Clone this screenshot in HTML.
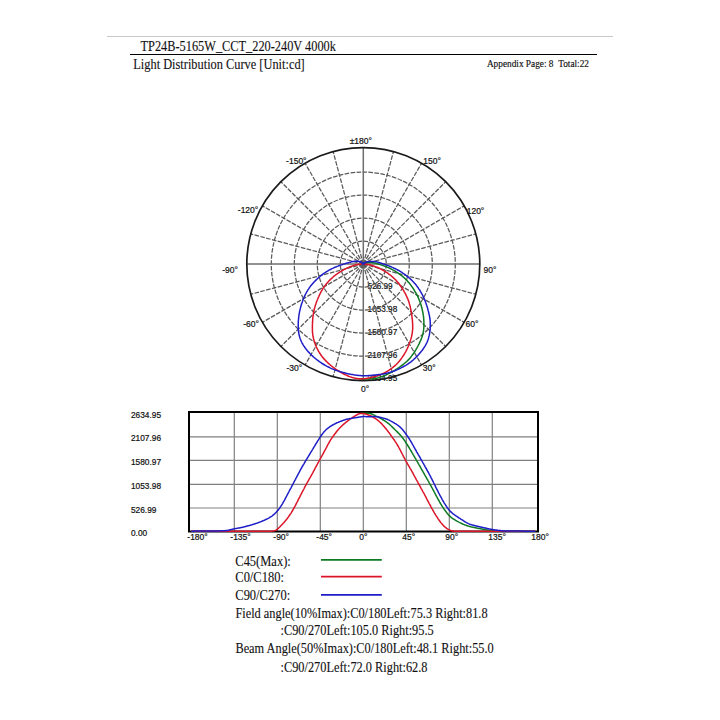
<!DOCTYPE html>
<html><head><meta charset="utf-8"><style>
html,body{margin:0;padding:0;background:#fff;width:720px;height:720px;overflow:hidden}
svg{display:block}
</style></head><body>
<svg width="720" height="720" viewBox="0 0 720 720">
<line x1="107" y1="36.5" x2="613" y2="36.5" stroke="#c8c8c8" stroke-width="1"/>
<line x1="130" y1="54.5" x2="597" y2="54.5" stroke="#000" stroke-width="1.2"/>
<text transform="translate(140.50,51.00) scale(1,1.1)" font-family='"Liberation Serif",serif' font-size="12.35" fill="#111" stroke="#111" stroke-width="0.1" text-anchor="start">TP24B-5165W_CCT_220-240V 4000k</text>
<text transform="translate(133.30,69.10) scale(1,1.1)" font-family='"Liberation Serif",serif' font-size="12.38" fill="#111" stroke="#111" stroke-width="0.1" text-anchor="start">Light Distribution Curve [Unit:cd]</text>
<text x="589.00" y="66.70" font-family='"Liberation Serif",serif' font-size="9.3" fill="#111" stroke="#111" stroke-width="0.15" text-anchor="end">Appendix Page: 8&#160;&#160;Total:22</text>
<text x="367.60" y="288.60" font-family='"Liberation Sans",sans-serif' font-size="8.2" fill="#111" stroke="#111" stroke-width="0.2" text-anchor="start">526.99</text>
<text x="367.60" y="311.60" font-family='"Liberation Sans",sans-serif' font-size="8.2" fill="#111" stroke="#111" stroke-width="0.2" text-anchor="start">1053.98</text>
<text x="367.60" y="334.60" font-family='"Liberation Sans",sans-serif' font-size="8.2" fill="#111" stroke="#111" stroke-width="0.2" text-anchor="start">1580.97</text>
<text x="367.60" y="357.60" font-family='"Liberation Sans",sans-serif' font-size="8.2" fill="#111" stroke="#111" stroke-width="0.2" text-anchor="start">2107.96</text>
<text x="367.60" y="380.60" font-family='"Liberation Sans",sans-serif' font-size="8.2" fill="#111" stroke="#111" stroke-width="0.2" text-anchor="start">2634.95</text>
<circle cx="363.3" cy="264.1" r="23.00" fill="none" stroke="#5a5a5a" stroke-width="1.25" stroke-dasharray="4.6 1.4"/>
<circle cx="363.3" cy="264.1" r="46.00" fill="none" stroke="#5a5a5a" stroke-width="1.25" stroke-dasharray="4.6 1.4"/>
<circle cx="363.3" cy="264.1" r="69.00" fill="none" stroke="#5a5a5a" stroke-width="1.25" stroke-dasharray="4.6 1.4"/>
<circle cx="363.3" cy="264.1" r="92.00" fill="none" stroke="#5a5a5a" stroke-width="1.25" stroke-dasharray="4.6 1.4"/>
<line x1="363.3" y1="264.1" x2="363.30" y2="380.60" stroke="#6e6e6e" stroke-width="1.5"/>
<line x1="363.3" y1="264.1" x2="393.45" y2="376.63" stroke="#5a5a5a" stroke-width="1.25" stroke-dasharray="4.6 1.4"/>
<line x1="363.3" y1="264.1" x2="421.55" y2="364.99" stroke="#5a5a5a" stroke-width="1.25" stroke-dasharray="4.6 1.4"/>
<line x1="363.3" y1="264.1" x2="445.68" y2="346.48" stroke="#5a5a5a" stroke-width="1.25" stroke-dasharray="4.6 1.4"/>
<line x1="363.3" y1="264.1" x2="464.19" y2="322.35" stroke="#5a5a5a" stroke-width="1.25" stroke-dasharray="4.6 1.4"/>
<line x1="363.3" y1="264.1" x2="475.83" y2="294.25" stroke="#5a5a5a" stroke-width="1.25" stroke-dasharray="4.6 1.4"/>
<line x1="363.3" y1="264.1" x2="479.80" y2="264.10" stroke="#6e6e6e" stroke-width="1.5"/>
<line x1="363.3" y1="264.1" x2="475.83" y2="233.95" stroke="#5a5a5a" stroke-width="1.25" stroke-dasharray="4.6 1.4"/>
<line x1="363.3" y1="264.1" x2="464.19" y2="205.85" stroke="#5a5a5a" stroke-width="1.25" stroke-dasharray="4.6 1.4"/>
<line x1="363.3" y1="264.1" x2="445.68" y2="181.72" stroke="#5a5a5a" stroke-width="1.25" stroke-dasharray="4.6 1.4"/>
<line x1="363.3" y1="264.1" x2="421.55" y2="163.21" stroke="#5a5a5a" stroke-width="1.25" stroke-dasharray="4.6 1.4"/>
<line x1="363.3" y1="264.1" x2="393.45" y2="151.57" stroke="#5a5a5a" stroke-width="1.25" stroke-dasharray="4.6 1.4"/>
<line x1="363.3" y1="264.1" x2="363.30" y2="147.60" stroke="#6e6e6e" stroke-width="1.5"/>
<line x1="363.3" y1="264.1" x2="333.15" y2="151.57" stroke="#5a5a5a" stroke-width="1.25" stroke-dasharray="4.6 1.4"/>
<line x1="363.3" y1="264.1" x2="305.05" y2="163.21" stroke="#5a5a5a" stroke-width="1.25" stroke-dasharray="4.6 1.4"/>
<line x1="363.3" y1="264.1" x2="280.92" y2="181.72" stroke="#5a5a5a" stroke-width="1.25" stroke-dasharray="4.6 1.4"/>
<line x1="363.3" y1="264.1" x2="262.41" y2="205.85" stroke="#5a5a5a" stroke-width="1.25" stroke-dasharray="4.6 1.4"/>
<line x1="363.3" y1="264.1" x2="250.77" y2="233.95" stroke="#5a5a5a" stroke-width="1.25" stroke-dasharray="4.6 1.4"/>
<line x1="363.3" y1="264.1" x2="246.80" y2="264.10" stroke="#6e6e6e" stroke-width="1.5"/>
<line x1="363.3" y1="264.1" x2="250.77" y2="294.25" stroke="#5a5a5a" stroke-width="1.25" stroke-dasharray="4.6 1.4"/>
<line x1="363.3" y1="264.1" x2="262.41" y2="322.35" stroke="#5a5a5a" stroke-width="1.25" stroke-dasharray="4.6 1.4"/>
<line x1="363.3" y1="264.1" x2="280.92" y2="346.48" stroke="#5a5a5a" stroke-width="1.25" stroke-dasharray="4.6 1.4"/>
<line x1="363.3" y1="264.1" x2="305.05" y2="364.99" stroke="#5a5a5a" stroke-width="1.25" stroke-dasharray="4.6 1.4"/>
<line x1="363.3" y1="264.1" x2="333.15" y2="376.63" stroke="#5a5a5a" stroke-width="1.25" stroke-dasharray="4.6 1.4"/>
<circle cx="363.3" cy="264.1" r="116.5" fill="none" stroke="#1a1a1a" stroke-width="1.7"/>
<path d="M359.3,379.0L360.3,379.1L361.3,379.1L362.3,379.1L363.3,379.1L364.3,379.1L365.3,379.1L366.3,379.1L367.3,379.0L368.3,379.0L369.3,378.9L370.3,378.9L371.3,378.8L372.3,378.7L373.3,378.7L374.3,378.6L375.3,378.4L376.3,378.2L377.3,378.0L378.3,377.7L379.2,377.4L380.2,377.1L381.2,376.8L382.1,376.5L383.1,376.1L384.0,375.8L384.9,375.4L385.9,375.0L386.8,374.5L387.7,374.1L388.6,373.7L389.5,373.2L390.4,372.8L391.3,372.3L392.2,371.8L393.0,371.3L393.9,370.8L394.7,370.3L395.6,369.7L396.4,369.2L397.3,368.7L398.1,368.1L398.9,367.6L399.7,367.0L400.5,366.4L401.3,365.8L402.1,365.2L402.9,364.6L403.7,364.0L404.4,363.4L405.2,362.8L405.9,362.1L406.7,361.5L407.4,360.8L408.1,360.1L408.8,359.4L409.4,358.7L410.1,357.9L410.7,357.2L411.3,356.4L411.9,355.6L412.5,354.8L413.1,354.0L413.7,353.1L414.2,352.3L414.8,351.5L415.3,350.6L415.8,349.8L416.3,348.9L416.8,348.1L417.3,347.2L417.7,346.4L418.2,345.5L418.6,344.6L419.1,343.8L419.5,342.9L419.9,342.0L420.3,341.2L420.7,340.3L421.1,339.4L421.4,338.5L421.8,337.6L422.1,336.7L422.4,335.8L422.6,334.8L422.9,333.9L423.1,332.9L423.3,331.9L423.5,330.9L423.6,329.9L423.7,328.9L423.8,327.9L423.9,326.8L423.9,325.8L423.9,324.7L423.9,323.7L423.9,322.6L423.9,321.6L423.8,320.6L423.8,319.5L423.7,318.5L423.6,317.4L423.5,316.4L423.3,315.4L423.2,314.4L423.0,313.3L422.8,312.3L422.6,311.3L422.4,310.3L422.2,309.3L421.9,308.3L421.6,307.3L421.4,306.3L421.1,305.3L420.8,304.3L420.4,303.4L420.1,302.4L419.8,301.5L419.4,300.5L419.1,299.6L418.7,298.7L418.3,297.8L417.9,296.9L417.5,296.0L417.0,295.1L416.6,294.2L416.1,293.4L415.6,292.5L415.1,291.7L414.6,290.8L414.1,290.0L413.6,289.2L413.1,288.4L412.6,287.6L412.0,286.8L411.5,286.1L410.9,285.3L410.4,284.6L409.8,283.8L409.2,283.1L408.6,282.4L408.0,281.7L407.4,281.0L406.8,280.4L406.1,279.7L405.5,279.0L404.8,278.4L404.1,277.7L403.4,277.1L402.7,276.5L401.9,275.9L401.2,275.3L400.4,274.7L399.7,274.2L398.9,273.6L398.1,273.1L397.4,272.6L396.6,272.1L395.8,271.6L395.1,271.1L394.3,270.7L393.5,270.2L392.7,269.8L392.0,269.4L391.2,269.0L390.5,268.6L389.7,268.3L389.0,267.9L388.3,267.6L387.5,267.3L386.8,267.0L386.2,266.7L385.5,266.4L384.8,266.2L384.2,265.9L383.5,265.7L382.9,265.5L382.3,265.3L381.7,265.1L381.1,264.9L380.5,264.7L380.0,264.5L379.5,264.4L379.0,264.2L378.5,264.1L378.0,264.0L377.6,263.9L377.2,263.7L376.8,263.6L376.4,263.5L376.1,263.4L375.7,263.3L375.4,263.3L375.1,263.2L374.8,263.1L374.5,263.0L374.2,263.0L373.9,262.9L373.6,262.8L373.3,262.8L373.0,262.7L372.8,262.7L372.5,262.6L372.3,262.6L372.0,262.6L371.8,262.5L371.5,262.5L371.3,262.5L371.1,262.4L370.8,262.4L370.6,262.4L370.4,262.4L370.2,262.4L370.0,262.4L369.8,262.4L369.6,262.4L369.4,262.4L369.2,262.4L369.0,262.4L368.8,262.4L368.6,262.4L368.5,262.4L368.3,262.4L368.1,262.4L368.0,262.4L367.9,262.4L367.7,262.4L367.6,262.4L367.5,262.4L367.3,262.4L367.2,262.4L367.1,262.4L367.0,262.4L366.9,262.5L366.8,262.5L366.7,262.5L366.6,262.5L366.5,262.5L366.4,262.5L366.3,262.5L366.2,262.6L366.1,262.6L366.0,262.6L365.9,262.6L365.8,262.6L365.7,262.7L365.6,262.7L365.5,262.7L365.5,262.8L365.4,262.8L365.3,262.8L365.2,262.9L365.1,262.9L365.0,262.9L364.9,263.0L364.8,263.0L364.8,263.0L364.7,263.1L364.6,263.1L364.5,263.2L364.4,263.2L364.4,263.2L364.3,263.3L364.2,263.3L364.2,263.4L364.1,263.4L364.0,263.5L363.9,263.5L363.9,263.6L363.8,263.6L363.8,263.7L363.7,263.7L363.7,263.7L363.6,263.8L363.6,263.8L363.6,263.8L363.5,263.9L363.5,263.9L363.5,263.9L363.5,263.9L363.5,263.9L363.5,263.9L363.5,263.9L363.4,263.9L363.4,263.9L363.4,263.9L363.4,263.9L363.4,263.9L363.4,263.9L363.4,263.9L363.4,263.9L363.4,263.9L363.4,263.9L363.4,263.9L363.4,263.9L363.4,263.9L363.4,263.9L363.4,263.9L363.4,263.9L363.4,263.9L363.4,264.0L363.4,264.0L363.4,264.0L363.4,264.0L363.4,264.0L363.4,264.0L363.4,264.0L363.4,264.0L363.4,264.0L363.4,264.0L363.4,264.0L363.4,264.0L363.4,264.0L363.4,264.0L363.4,264.0L363.4,264.0L363.4,264.0L363.4,264.0L363.4,264.0L363.3,264.0L363.3,264.0L363.3,264.0L363.3,264.0L363.3,264.0L363.3,264.0L363.3,264.0L363.3,264.0L363.3,264.0L363.3,264.0L363.3,264.0L363.3,264.0L363.3,264.0L363.3,264.0L363.3,264.0L363.3,264.0L363.3,264.0L363.3,264.0L363.3,264.0L363.3,264.0L363.3,264.0L363.3,264.0L363.3,264.0L363.3,264.0L363.3,264.0L363.3,264.0L363.3,264.0L363.3,264.0L363.3,264.0L363.3,264.0L363.3,264.1L363.3,264.1L363.3,264.1L363.3,264.1L363.3,264.1L363.3,264.1L363.3,264.1L363.3,264.1L363.3,264.1L363.3,264.1L363.3,264.1L363.3,264.1L363.3,264.1L363.3,264.1L363.3,264.1L363.3,264.1" fill="none" stroke="#0c7a22" stroke-width="1.5"/>
<path d="M363.3,264.1L363.3,264.1L363.3,264.1L363.3,264.1L363.3,264.1L363.3,264.1L363.3,264.1L363.3,264.1L363.3,264.1L363.3,264.1L363.3,264.1L363.3,264.1L363.3,264.1L363.3,264.1L363.3,264.1L363.3,264.1L363.3,264.1L363.3,264.1L363.3,264.1L363.3,264.1L363.3,264.1L363.3,264.1L363.3,264.1L363.3,264.1L363.3,264.1L363.3,264.1L363.3,264.1L363.3,264.1L363.3,264.1L363.3,264.1L363.3,264.1L363.3,264.1L363.3,264.1L363.3,264.1L363.3,264.1L363.3,264.1L363.3,264.1L363.3,264.1L363.3,264.1L363.3,264.1L363.3,264.1L363.3,264.1L363.3,264.1L363.3,264.1L363.3,264.1L363.3,264.1L363.3,264.1L363.3,264.1L363.3,264.1L363.3,264.1L363.3,264.1L363.3,264.1L363.3,264.1L363.3,264.1L363.3,264.1L363.3,264.1L363.3,264.1L363.3,264.1L363.3,264.1L363.3,264.1L363.3,264.1L363.3,264.1L363.3,264.1L363.3,264.1L363.3,264.1L363.3,264.1L363.3,264.1L363.3,264.1L363.3,264.1L363.3,264.1L363.3,264.1L363.3,264.1L363.3,264.1L363.3,264.1L363.3,264.1L363.3,264.1L363.3,264.1L363.3,264.1L363.3,264.1L363.3,264.1L363.3,264.1L363.3,264.1L363.3,264.1L363.3,264.1L363.3,264.1L363.3,264.1L363.3,264.1L363.3,264.1L363.3,264.1L363.3,264.1L363.3,264.1L363.3,264.1L363.3,264.1L363.3,264.1L363.3,264.1L363.3,264.1L363.3,264.1L363.3,264.1L363.3,264.1L363.3,264.1L363.3,264.1L363.3,264.1L363.3,264.1L363.3,264.1L363.3,264.1L363.3,264.1L363.3,264.1L363.3,264.1L363.3,264.1L363.3,264.1L363.3,264.1L363.3,264.1L363.3,264.1L363.3,264.1L363.3,264.1L363.3,264.1L363.3,264.1L363.3,264.1L363.3,264.1L363.3,264.1L363.3,264.1L363.3,264.1L363.3,264.1L363.3,264.1L363.3,264.1L363.3,264.1L363.3,264.1L363.3,264.1L363.3,264.1L363.3,264.1L363.3,264.1L363.3,264.1L363.3,264.1L363.3,264.1L363.3,264.1L363.3,264.1L363.3,264.1L363.3,264.1L363.3,264.1L363.3,264.1L363.3,264.1L363.3,264.1L363.3,264.1L363.3,264.1L363.3,264.1L363.3,264.1L363.3,264.1L363.3,264.1L363.3,264.1L363.3,264.1L363.3,264.1L363.3,264.1L363.3,264.1L363.3,264.1L363.3,264.1L363.3,264.1L363.3,264.1L363.3,264.1L363.3,264.1L363.3,264.1L363.3,264.1L363.3,264.1L363.3,264.1L363.3,264.1L363.3,264.1L363.3,264.1L363.3,264.1L363.3,264.1L363.3,264.1L363.2,264.1L363.2,264.1L363.1,264.1L363.1,264.1L363.0,264.1L362.8,264.1L362.7,264.1L362.5,264.1L362.2,264.1L361.9,264.1L361.6,264.1L361.3,264.1L360.9,264.1L360.5,264.1L360.1,264.2L359.6,264.2L359.2,264.3L358.7,264.3L358.2,264.4L357.8,264.5L357.3,264.6L356.8,264.7L356.3,264.8L355.8,264.9L355.3,265.0L354.8,265.1L354.3,265.3L353.8,265.4L353.2,265.6L352.7,265.8L352.1,266.0L351.6,266.2L351.0,266.4L350.4,266.6L349.8,266.8L349.2,267.1L348.6,267.4L347.9,267.7L347.3,267.9L346.6,268.3L345.9,268.6L345.3,268.9L344.6,269.3L343.9,269.7L343.1,270.1L342.4,270.5L341.7,270.9L340.9,271.4L340.2,271.8L339.4,272.3L338.6,272.8L337.8,273.4L337.1,273.9L336.3,274.5L335.5,275.0L334.8,275.6L334.0,276.2L333.3,276.8L332.6,277.5L331.9,278.1L331.2,278.7L330.5,279.4L329.8,280.1L329.1,280.8L328.5,281.5L327.8,282.2L327.2,282.9L326.6,283.6L325.9,284.4L325.3,285.1L324.8,285.9L324.2,286.7L323.7,287.5L323.1,288.2L322.6,289.0L322.2,289.8L321.7,290.6L321.2,291.4L320.8,292.2L320.4,293.1L320.0,293.9L319.6,294.7L319.2,295.6L318.8,296.5L318.4,297.3L318.0,298.2L317.6,299.2L317.2,300.1L316.9,301.0L316.5,302.0L316.1,303.0L315.8,304.0L315.5,304.9L315.2,305.9L314.9,306.9L314.6,308.0L314.3,309.0L314.1,310.0L313.9,311.0L313.7,312.0L313.5,313.1L313.3,314.1L313.2,315.1L313.1,316.1L312.9,317.2L312.8,318.2L312.7,319.3L312.7,320.3L312.6,321.4L312.5,322.5L312.5,323.6L312.4,324.7L312.4,325.9L312.4,327.0L312.4,328.1L312.4,329.3L312.4,330.4L312.5,331.6L312.5,332.7L312.7,333.8L312.8,334.9L313.0,336.0L313.2,337.0L313.4,338.1L313.7,339.1L313.9,340.1L314.2,341.1L314.5,342.1L314.9,343.1L315.2,344.1L315.6,345.1L316.0,346.0L316.4,347.0L316.8,347.9L317.3,348.8L317.8,349.8L318.2,350.7L318.7,351.5L319.3,352.4L319.8,353.3L320.4,354.1L320.9,355.0L321.5,355.8L322.1,356.6L322.7,357.4L323.4,358.1L324.0,358.9L324.7,359.6L325.4,360.4L326.1,361.1L326.8,361.8L327.5,362.5L328.2,363.2L329.0,363.8L329.7,364.5L330.5,365.1L331.2,365.8L332.0,366.4L332.8,367.0L333.6,367.6L334.4,368.2L335.2,368.8L336.1,369.4L336.9,369.9L337.8,370.5L338.6,371.0L339.5,371.5L340.4,372.0L341.2,372.6L342.1,373.1L343.0,373.5L343.9,374.0L344.8,374.5L345.7,374.9L346.7,375.3L347.6,375.8L348.5,376.2L349.5,376.5L350.4,376.9L351.4,377.2L352.4,377.6L353.3,377.8L354.3,378.1L355.3,378.3L356.3,378.5L357.3,378.6L358.3,378.8L359.3,378.8L360.3,378.9L361.3,378.9L362.3,378.8L363.3,378.8L364.3,378.7L365.3,378.6L366.3,378.4L367.3,378.3L368.3,378.1L369.3,377.9L370.3,377.7L371.2,377.5L372.2,377.3L373.2,377.1L374.2,376.8L375.1,376.5L376.1,376.2L377.0,375.9L378.0,375.6L378.9,375.2L379.9,374.9L380.8,374.5L381.7,374.1L382.6,373.7L383.5,373.3L384.4,372.8L385.3,372.3L386.2,371.8L387.1,371.3L387.9,370.8L388.8,370.3L389.6,369.7L390.5,369.2L391.3,368.6L392.1,368.0L392.9,367.4L393.7,366.7L394.5,366.1L395.2,365.4L396.0,364.7L396.7,364.0L397.4,363.2L398.1,362.5L398.8,361.7L399.5,360.9L400.2,360.1L400.8,359.3L401.4,358.4L402.0,357.6L402.6,356.7L403.2,355.9L403.8,355.0L404.3,354.1L404.8,353.2L405.4,352.3L405.9,351.4L406.4,350.4L406.8,349.5L407.3,348.6L407.7,347.6L408.1,346.7L408.5,345.7L408.9,344.7L409.3,343.8L409.7,342.8L410.0,341.8L410.3,340.8L410.6,339.9L410.9,338.9L411.2,337.9L411.5,336.9L411.7,335.9L411.9,334.9L412.1,333.8L412.3,332.8L412.4,331.7L412.5,330.6L412.6,329.5L412.7,328.4L412.7,327.3L412.7,326.2L412.7,325.1L412.6,323.9L412.6,322.8L412.5,321.7L412.4,320.6L412.3,319.4L412.1,318.3L412.0,317.3L411.9,316.2L411.7,315.1L411.6,314.1L411.4,313.1L411.3,312.1L411.1,311.1L410.9,310.1L410.7,309.1L410.5,308.1L410.3,307.2L410.1,306.2L409.9,305.3L409.6,304.4L409.3,303.4L409.1,302.5L408.7,301.6L408.4,300.6L408.1,299.7L407.7,298.8L407.3,297.9L406.9,297.0L406.5,296.1L406.1,295.2L405.7,294.3L405.2,293.5L404.8,292.6L404.3,291.8L403.8,290.9L403.4,290.1L402.9,289.3L402.4,288.5L401.9,287.7L401.3,287.0L400.8,286.2L400.3,285.5L399.7,284.7L399.2,284.0L398.6,283.3L398.0,282.6L397.4,281.9L396.8,281.2L396.2,280.5L395.5,279.8L394.9,279.2L394.2,278.5L393.5,277.9L392.8,277.2L392.1,276.6L391.4,276.0L390.7,275.4L390.0,274.9L389.2,274.3L388.5,273.8L387.8,273.2L387.0,272.7L386.3,272.2L385.5,271.8L384.8,271.3L384.0,270.8L383.3,270.4L382.6,270.0L381.8,269.6L381.1,269.2L380.4,268.8L379.7,268.5L379.0,268.1L378.3,267.8L377.6,267.5L376.9,267.2L376.2,267.0L375.5,266.7L374.9,266.5L374.3,266.2L373.6,266.0L373.0,265.8L372.4,265.6L371.9,265.5L371.3,265.3L370.7,265.1L370.2,265.0L369.7,264.9L369.2,264.8L368.7,264.7L368.3,264.6L367.8,264.5L367.4,264.4L367.0,264.4L366.6,264.3L366.3,264.3L366.0,264.2L365.6,264.2L365.3,264.2L365.1,264.1L364.8,264.1L364.6,264.1L364.4,264.1L364.2,264.1L364.0,264.1L363.9,264.1L363.7,264.1L363.6,264.1L363.5,264.1L363.5,264.1L363.4,264.1L363.4,264.1L363.4,264.1L363.3,264.1L363.3,264.1L363.3,264.1L363.3,264.1L363.3,264.1L363.3,264.1L363.3,264.1L363.3,264.1L363.3,264.1L363.3,264.1L363.3,264.1L363.3,264.1L363.3,264.1L363.3,264.1L363.3,264.1L363.3,264.1L363.3,264.1L363.3,264.1L363.3,264.1L363.3,264.1L363.3,264.1L363.3,264.1L363.3,264.1L363.3,264.1L363.3,264.1L363.3,264.1L363.3,264.1L363.3,264.1L363.3,264.1L363.3,264.1L363.3,264.1L363.3,264.1L363.3,264.1L363.3,264.1L363.3,264.1L363.3,264.1L363.3,264.1L363.3,264.1L363.3,264.1L363.3,264.1L363.3,264.1L363.3,264.1L363.3,264.1L363.3,264.1L363.3,264.1L363.3,264.1L363.3,264.1L363.3,264.1L363.3,264.1L363.3,264.1L363.3,264.1L363.3,264.1L363.3,264.1L363.3,264.1L363.3,264.1L363.3,264.1L363.3,264.1L363.3,264.1L363.3,264.1L363.3,264.1L363.3,264.1L363.3,264.1L363.3,264.1L363.3,264.1L363.3,264.1L363.3,264.1L363.3,264.1L363.3,264.1L363.3,264.1L363.3,264.1L363.3,264.1L363.3,264.1L363.3,264.1L363.3,264.1L363.3,264.1L363.3,264.1L363.3,264.1L363.3,264.1L363.3,264.1L363.3,264.1L363.3,264.1L363.3,264.1L363.3,264.1L363.3,264.1L363.3,264.1L363.3,264.1L363.3,264.1L363.3,264.1L363.3,264.1L363.3,264.1L363.3,264.1L363.3,264.1L363.3,264.1L363.3,264.1L363.3,264.1L363.3,264.1L363.3,264.1L363.3,264.1L363.3,264.1L363.3,264.1L363.3,264.1L363.3,264.1L363.3,264.1L363.3,264.1L363.3,264.1L363.3,264.1L363.3,264.1L363.3,264.1L363.3,264.1L363.3,264.1L363.3,264.1L363.3,264.1L363.3,264.1L363.3,264.1L363.3,264.1L363.3,264.1L363.3,264.1L363.3,264.1L363.3,264.1L363.3,264.1L363.3,264.1L363.3,264.1L363.3,264.1L363.3,264.1L363.3,264.1L363.3,264.1L363.3,264.1L363.3,264.1L363.3,264.1L363.3,264.1L363.3,264.1L363.3,264.1L363.3,264.1L363.3,264.1L363.3,264.1L363.3,264.1L363.3,264.1L363.3,264.1L363.3,264.1L363.3,264.1L363.3,264.1L363.3,264.1L363.3,264.1L363.3,264.1L363.3,264.1L363.3,264.1L363.3,264.1L363.3,264.1L363.3,264.1L363.3,264.1L363.3,264.1L363.3,264.1L363.3,264.1L363.3,264.1L363.3,264.1L363.3,264.1L363.3,264.1L363.3,264.1L363.3,264.1L363.3,264.1L363.3,264.1L363.3,264.1L363.3,264.1L363.3,264.1L363.3,264.1L363.3,264.1L363.3,264.1L363.3,264.1L363.3,264.1" fill="none" stroke="#dc1428" stroke-width="1.5"/>
<path d="M363.3,264.1L363.3,264.0L363.3,264.0L363.3,264.0L363.3,264.0L363.3,264.0L363.3,264.0L363.3,264.0L363.3,264.0L363.3,264.0L363.3,264.0L363.3,264.0L363.3,264.0L363.3,263.9L363.3,263.9L363.3,263.9L363.3,263.9L363.3,263.9L363.3,263.9L363.3,263.9L363.3,263.9L363.3,263.9L363.3,263.9L363.3,263.9L363.3,263.9L363.2,263.9L363.2,263.9L363.2,263.9L363.2,263.9L363.2,263.9L363.2,263.9L363.2,263.8L363.2,263.8L363.2,263.8L363.2,263.8L363.2,263.8L363.2,263.8L363.2,263.8L363.2,263.8L363.2,263.8L363.2,263.8L363.2,263.8L363.2,263.8L363.2,263.8L363.2,263.8L363.2,263.8L363.2,263.8L363.2,263.8L363.2,263.8L363.2,263.8L363.2,263.8L363.1,263.8L363.1,263.8L363.1,263.8L363.1,263.8L363.1,263.8L363.1,263.8L363.1,263.8L363.1,263.8L363.1,263.8L363.1,263.8L363.1,263.8L363.1,263.8L363.1,263.7L363.1,263.7L363.1,263.7L363.1,263.7L363.0,263.7L363.0,263.7L363.0,263.7L363.0,263.7L363.0,263.6L362.9,263.6L362.9,263.6L362.9,263.5L362.8,263.5L362.8,263.4L362.7,263.3L362.6,263.3L362.6,263.2L362.5,263.1L362.4,263.0L362.3,263.0L362.2,262.9L362.1,262.8L362.0,262.7L362.0,262.7L361.9,262.6L361.8,262.5L361.7,262.5L361.6,262.4L361.5,262.4L361.4,262.3L361.4,262.3L361.3,262.2L361.2,262.2L361.1,262.2L361.1,262.1L361.0,262.1L360.9,262.1L360.8,262.0L360.8,262.0L360.7,262.0L360.6,261.9L360.5,261.9L360.4,261.9L360.3,261.8L360.2,261.8L360.1,261.8L360.0,261.7L359.9,261.7L359.7,261.7L359.6,261.6L359.5,261.6L359.4,261.6L359.3,261.5L359.1,261.5L359.0,261.5L358.9,261.4L358.7,261.4L358.6,261.4L358.5,261.4L358.3,261.3L358.2,261.3L358.1,261.3L357.9,261.3L357.8,261.3L357.6,261.3L357.5,261.3L357.3,261.2L357.2,261.2L357.0,261.2L356.8,261.2L356.7,261.2L356.5,261.2L356.3,261.2L356.2,261.2L356.0,261.2L355.8,261.2L355.6,261.2L355.5,261.2L355.3,261.3L355.1,261.3L354.9,261.3L354.7,261.3L354.5,261.3L354.3,261.3L354.1,261.4L353.9,261.4L353.7,261.4L353.4,261.5L353.2,261.5L353.0,261.5L352.8,261.6L352.6,261.6L352.3,261.7L352.1,261.7L351.9,261.8L351.6,261.8L351.4,261.9L351.1,262.0L350.9,262.0L350.6,262.1L350.4,262.2L350.1,262.2L349.8,262.3L349.5,262.4L349.2,262.5L348.8,262.6L348.5,262.7L348.1,262.8L347.7,262.9L347.3,263.0L346.9,263.1L346.5,263.2L346.0,263.3L345.6,263.5L345.1,263.6L344.6,263.8L344.1,263.9L343.6,264.1L343.0,264.3L342.5,264.5L341.9,264.7L341.3,264.9L340.7,265.1L340.0,265.3L339.4,265.6L338.7,265.8L338.0,266.1L337.2,266.4L336.5,266.7L335.7,267.0L334.9,267.3L334.1,267.7L333.3,268.1L332.4,268.4L331.6,268.8L330.8,269.3L329.9,269.7L329.1,270.1L328.3,270.6L327.5,271.1L326.7,271.5L325.9,272.0L325.1,272.6L324.3,273.1L323.6,273.6L322.8,274.2L322.0,274.8L321.3,275.4L320.5,276.0L319.8,276.6L319.0,277.2L318.3,277.9L317.6,278.5L316.9,279.2L316.2,279.9L315.5,280.6L314.8,281.3L314.1,282.0L313.4,282.8L312.8,283.5L312.1,284.3L311.5,285.0L310.8,285.8L310.2,286.6L309.6,287.4L309.0,288.3L308.5,289.1L307.9,289.9L307.4,290.8L306.9,291.6L306.4,292.5L306.0,293.3L305.5,294.2L305.1,295.0L304.7,295.9L304.3,296.8L303.9,297.7L303.5,298.6L303.2,299.5L302.8,300.4L302.5,301.4L302.2,302.3L301.8,303.3L301.5,304.2L301.2,305.2L300.9,306.2L300.7,307.1L300.4,308.1L300.2,309.1L299.9,310.1L299.7,311.1L299.5,312.2L299.3,313.2L299.1,314.2L299.0,315.3L298.8,316.3L298.7,317.4L298.6,318.4L298.5,319.5L298.4,320.5L298.3,321.6L298.3,322.7L298.2,323.7L298.2,324.8L298.2,325.9L298.2,326.9L298.3,328.0L298.3,329.1L298.4,330.1L298.5,331.2L298.6,332.2L298.8,333.3L299.0,334.3L299.2,335.3L299.5,336.3L299.7,337.2L300.0,338.2L300.4,339.1L300.7,340.0L301.1,340.9L301.5,341.8L301.9,342.6L302.4,343.5L302.9,344.3L303.3,345.1L303.8,345.9L304.4,346.7L304.9,347.5L305.5,348.3L306.0,349.0L306.6,349.7L307.2,350.5L307.8,351.2L308.4,351.9L309.1,352.6L309.7,353.3L310.4,354.0L311.0,354.6L311.7,355.3L312.4,355.9L313.1,356.6L313.8,357.2L314.5,357.8L315.2,358.4L316.0,359.0L316.7,359.6L317.5,360.2L318.2,360.7L319.0,361.3L319.8,361.9L320.6,362.4L321.3,362.9L322.1,363.5L323.0,364.0L323.8,364.5L324.6,365.0L325.4,365.4L326.2,365.9L327.1,366.4L327.9,366.8L328.8,367.2L329.7,367.7L330.5,368.1L331.4,368.5L332.3,368.9L333.2,369.2L334.0,369.6L334.9,369.9L335.8,370.3L336.7,370.6L337.7,370.9L338.6,371.2L339.5,371.5L340.4,371.8L341.3,372.0L342.3,372.3L343.2,372.6L344.1,372.8L345.1,373.0L346.0,373.3L347.0,373.5L347.9,373.7L348.8,373.9L349.8,374.1L350.7,374.3L351.7,374.4L352.7,374.6L353.6,374.8L354.6,374.9L355.5,375.1L356.5,375.2L357.5,375.3L358.4,375.5L359.4,375.6L360.4,375.6L361.4,375.7L362.3,375.8L363.3,375.8L364.3,375.8L365.2,375.8L366.2,375.7L367.2,375.7L368.2,375.6L369.1,375.6L370.1,375.5L371.1,375.4L372.1,375.3L373.0,375.2L374.0,375.1L375.0,375.0L375.9,374.9L376.9,374.8L377.9,374.7L378.8,374.6L379.8,374.5L380.8,374.4L381.7,374.2L382.7,374.1L383.7,373.9L384.6,373.7L385.6,373.5L386.5,373.3L387.5,373.1L388.4,372.8L389.3,372.6L390.3,372.3L391.2,372.0L392.1,371.7L393.1,371.4L394.0,371.0L394.9,370.7L395.8,370.3L396.7,369.9L397.6,369.6L398.4,369.1L399.3,368.7L400.2,368.3L401.1,367.9L401.9,367.4L402.8,367.0L403.6,366.5L404.5,366.0L405.3,365.6L406.2,365.1L407.0,364.6L407.8,364.0L408.6,363.5L409.4,363.0L410.2,362.4L411.0,361.8L411.7,361.2L412.5,360.6L413.2,360.0L413.9,359.3L414.6,358.6L415.3,358.0L416.0,357.3L416.7,356.6L417.4,355.9L418.0,355.2L418.7,354.5L419.3,353.7L419.9,353.0L420.6,352.3L421.2,351.5L421.8,350.8L422.4,350.0L422.9,349.3L423.5,348.5L424.0,347.7L424.5,346.9L425.1,346.1L425.5,345.2L426.0,344.4L426.4,343.5L426.9,342.6L427.3,341.7L427.6,340.8L428.0,339.8L428.3,338.9L428.6,337.9L428.8,336.9L429.1,335.9L429.3,334.9L429.5,333.9L429.7,332.8L429.8,331.8L430.0,330.8L430.1,329.7L430.2,328.7L430.2,327.6L430.3,326.6L430.3,325.5L430.3,324.4L430.3,323.4L430.2,322.3L430.2,321.2L430.1,320.1L429.9,319.0L429.8,317.9L429.6,316.8L429.4,315.7L429.2,314.7L428.9,313.6L428.7,312.5L428.4,311.4L428.1,310.4L427.9,309.3L427.6,308.3L427.3,307.2L427.0,306.2L426.6,305.2L426.3,304.2L426.0,303.3L425.6,302.3L425.3,301.3L424.9,300.4L424.5,299.4L424.1,298.5L423.7,297.6L423.3,296.7L422.9,295.8L422.4,294.9L421.9,294.0L421.4,293.1L420.9,292.2L420.4,291.4L419.9,290.5L419.4,289.7L418.8,288.8L418.3,288.0L417.7,287.2L417.1,286.4L416.5,285.6L415.9,284.8L415.3,284.0L414.6,283.3L413.9,282.5L413.2,281.8L412.5,281.1L411.8,280.3L411.1,279.6L410.3,278.9L409.6,278.3L408.8,277.6L408.0,276.9L407.2,276.3L406.4,275.7L405.6,275.0L404.8,274.4L404.0,273.9L403.1,273.3L402.3,272.7L401.5,272.2L400.6,271.7L399.8,271.2L399.0,270.7L398.2,270.2L397.3,269.8L396.5,269.4L395.7,268.9L394.9,268.5L394.1,268.2L393.4,267.8L392.6,267.4L391.8,267.1L391.1,266.8L390.3,266.5L389.6,266.2L388.9,265.9L388.2,265.6L387.5,265.4L386.8,265.1L386.2,264.9L385.6,264.7L385.0,264.5L384.4,264.3L383.8,264.1L383.3,263.9L382.8,263.8L382.4,263.6L381.9,263.5L381.5,263.3L381.1,263.2L380.7,263.0L380.3,262.9L379.9,262.8L379.6,262.7L379.2,262.6L378.8,262.5L378.5,262.4L378.2,262.3L377.8,262.2L377.5,262.1L377.2,262.0L376.9,262.0L376.5,261.9L376.2,261.8L375.9,261.8L375.6,261.7L375.3,261.7L375.0,261.6L374.7,261.6L374.4,261.5L374.0,261.5L373.7,261.5L373.4,261.5L373.1,261.5L372.8,261.5L372.5,261.5L372.1,261.5L371.8,261.5L371.5,261.5L371.3,261.5L371.0,261.5L370.7,261.5L370.5,261.6L370.2,261.6L370.0,261.6L369.8,261.6L369.6,261.6L369.5,261.6L369.3,261.6L369.2,261.6L369.0,261.6L368.9,261.6L368.7,261.6L368.6,261.6L368.5,261.6L368.4,261.6L368.2,261.6L368.1,261.6L368.0,261.7L367.9,261.7L367.8,261.7L367.6,261.7L367.5,261.7L367.4,261.7L367.3,261.7L367.2,261.8L367.1,261.8L367.0,261.8L366.8,261.8L366.7,261.9L366.6,261.9L366.5,261.9L366.4,262.0L366.3,262.0L366.2,262.0L366.1,262.1L366.0,262.1L365.9,262.1L365.8,262.2L365.7,262.2L365.6,262.3L365.5,262.3L365.4,262.4L365.3,262.4L365.2,262.5L365.1,262.5L365.0,262.6L365.0,262.6L364.9,262.7L364.8,262.7L364.7,262.8L364.6,262.8L364.6,262.9L364.5,262.9L364.4,263.0L364.4,263.0L364.3,263.0L364.2,263.1L364.2,263.1L364.1,263.2L364.1,263.2L364.0,263.2L364.0,263.3L364.0,263.3L363.9,263.4L363.9,263.4L363.8,263.4L363.8,263.5L363.7,263.5L363.7,263.6L363.7,263.6L363.6,263.6L363.6,263.7L363.6,263.7L363.5,263.7L363.5,263.8L363.5,263.8L363.5,263.8L363.5,263.8L363.5,263.9L363.4,263.9L363.4,263.9L363.4,263.9L363.4,263.9L363.4,263.9L363.4,263.9L363.4,263.9L363.4,263.9L363.4,263.9L363.4,263.9L363.4,263.9L363.4,263.9L363.4,263.9L363.4,263.9L363.4,263.9L363.4,263.9L363.4,263.9L363.4,263.9L363.4,263.9L363.4,263.9L363.4,264.0L363.4,264.0L363.4,264.0L363.4,264.0L363.3,264.0L363.3,264.0L363.3,264.0L363.3,264.0L363.3,264.0L363.3,264.0L363.3,264.0L363.3,264.0L363.3,264.0L363.3,264.0L363.3,264.0L363.3,264.0L363.3,264.0L363.3,264.0L363.3,264.0L363.3,264.0L363.3,264.0L363.3,264.0L363.3,264.0L363.3,264.0L363.3,264.0L363.3,264.0L363.3,264.0L363.3,264.0L363.3,264.0L363.3,264.0L363.3,264.0L363.3,264.0L363.3,264.0L363.3,264.1L363.3,264.1L363.3,264.1L363.3,264.1L363.3,264.1L363.3,264.1L363.3,264.1L363.3,264.1L363.3,264.1L363.3,264.1L363.3,264.1" fill="none" stroke="#1e1ec8" stroke-width="1.5"/>
<text x="349.70" y="143.50" font-family='"Liberation Sans",sans-serif' font-size="8.5" fill="#111" stroke="#111" stroke-width="0.2" text-anchor="start">&#177;180&#176;</text>
<text x="286.10" y="163.60" font-family='"Liberation Sans",sans-serif' font-size="8.5" fill="#111" stroke="#111" stroke-width="0.2" text-anchor="start">-150&#176;</text>
<text x="423.30" y="163.90" font-family='"Liberation Sans",sans-serif' font-size="8.5" fill="#111" stroke="#111" stroke-width="0.2" text-anchor="start">150&#176;</text>
<text x="237.80" y="213.00" font-family='"Liberation Sans",sans-serif' font-size="8.5" fill="#111" stroke="#111" stroke-width="0.2" text-anchor="start">-120&#176;</text>
<text x="466.70" y="213.60" font-family='"Liberation Sans",sans-serif' font-size="8.5" fill="#111" stroke="#111" stroke-width="0.2" text-anchor="start">120&#176;</text>
<text x="222.20" y="272.80" font-family='"Liberation Sans",sans-serif' font-size="8.5" fill="#111" stroke="#111" stroke-width="0.2" text-anchor="start">-90&#176;</text>
<text x="483.50" y="272.80" font-family='"Liberation Sans",sans-serif' font-size="8.5" fill="#111" stroke="#111" stroke-width="0.2" text-anchor="start">90&#176;</text>
<text x="243.20" y="326.90" font-family='"Liberation Sans",sans-serif' font-size="8.5" fill="#111" stroke="#111" stroke-width="0.2" text-anchor="start">-60&#176;</text>
<text x="465.60" y="326.90" font-family='"Liberation Sans",sans-serif' font-size="8.5" fill="#111" stroke="#111" stroke-width="0.2" text-anchor="start">60&#176;</text>
<text x="286.50" y="370.80" font-family='"Liberation Sans",sans-serif' font-size="8.5" fill="#111" stroke="#111" stroke-width="0.2" text-anchor="start">-30&#176;</text>
<text x="422.80" y="370.80" font-family='"Liberation Sans",sans-serif' font-size="8.5" fill="#111" stroke="#111" stroke-width="0.2" text-anchor="start">30&#176;</text>
<text x="361.00" y="391.70" font-family='"Liberation Sans",sans-serif' font-size="8.5" fill="#111" stroke="#111" stroke-width="0.2" text-anchor="start">0&#176;</text>
<line x1="189" y1="436.80" x2="538" y2="436.80" stroke="#808080" stroke-width="1.2"/>
<line x1="189" y1="460.30" x2="538" y2="460.30" stroke="#808080" stroke-width="1.2"/>
<line x1="189" y1="484.30" x2="538" y2="484.30" stroke="#808080" stroke-width="1.2"/>
<line x1="189" y1="508.00" x2="538" y2="508.00" stroke="#808080" stroke-width="1.2"/>
<line x1="234.30" y1="412" x2="234.30" y2="531.5" stroke="#808080" stroke-width="1.2"/>
<line x1="277.30" y1="412" x2="277.30" y2="531.5" stroke="#808080" stroke-width="1.2"/>
<line x1="320.30" y1="412" x2="320.30" y2="531.5" stroke="#808080" stroke-width="1.2"/>
<line x1="363.30" y1="412" x2="363.30" y2="531.5" stroke="#808080" stroke-width="1.2"/>
<line x1="406.30" y1="412" x2="406.30" y2="531.5" stroke="#808080" stroke-width="1.2"/>
<line x1="449.30" y1="412" x2="449.30" y2="531.5" stroke="#808080" stroke-width="1.2"/>
<line x1="492.30" y1="412" x2="492.30" y2="531.5" stroke="#808080" stroke-width="1.2"/>
<rect x="189" y="412" width="349" height="119.5" fill="none" stroke="#000" stroke-width="2"/>
<path d="M361.4,413.2L361.9,413.2L362.3,413.2L362.8,413.2L363.3,413.2L363.8,413.2L364.3,413.2L364.7,413.2L365.2,413.2L365.7,413.2L366.2,413.2L366.6,413.2L367.1,413.2L367.6,413.2L368.1,413.2L368.6,413.2L369.0,413.3L369.5,413.4L370.0,413.5L370.5,413.6L370.9,413.8L371.4,413.9L371.9,414.1L372.4,414.3L372.9,414.5L373.3,414.7L373.8,414.9L374.3,415.1L374.8,415.3L375.2,415.6L375.7,415.8L376.2,416.1L376.7,416.3L377.2,416.6L377.6,416.8L378.1,417.1L378.6,417.3L379.1,417.6L379.5,417.9L380.0,418.1L380.5,418.4L381.0,418.7L381.5,418.9L381.9,419.2L382.4,419.5L382.9,419.8L383.4,420.0L383.8,420.3L384.3,420.6L384.8,420.9L385.3,421.2L385.8,421.5L386.2,421.8L386.7,422.2L387.2,422.5L387.7,422.9L388.1,423.3L388.6,423.6L389.1,424.0L389.6,424.5L390.1,424.9L390.5,425.3L391.0,425.8L391.5,426.2L392.0,426.7L392.4,427.2L392.9,427.6L393.4,428.1L393.9,428.6L394.4,429.0L394.8,429.5L395.3,430.0L395.8,430.5L396.3,430.9L396.7,431.4L397.2,431.9L397.7,432.4L398.2,432.9L398.7,433.3L399.1,433.8L399.6,434.3L400.1,434.9L400.6,435.4L401.0,435.9L401.5,436.5L402.0,437.1L402.5,437.7L403.0,438.3L403.4,438.9L403.9,439.6L404.4,440.3L404.9,441.0L405.3,441.7L405.8,442.5L406.3,443.2L406.8,444.0L407.3,444.7L407.7,445.5L408.2,446.3L408.7,447.0L409.2,447.8L409.6,448.6L410.1,449.4L410.6,450.2L411.1,451.0L411.6,451.8L412.0,452.6L412.5,453.4L413.0,454.3L413.5,455.1L413.9,455.9L414.4,456.7L414.9,457.6L415.4,458.4L415.9,459.2L416.3,460.1L416.8,460.9L417.3,461.7L417.8,462.6L418.2,463.4L418.7,464.2L419.2,465.1L419.7,465.9L420.2,466.7L420.6,467.6L421.1,468.4L421.6,469.3L422.1,470.1L422.5,471.0L423.0,471.8L423.5,472.7L424.0,473.5L424.5,474.4L424.9,475.2L425.4,476.1L425.9,476.9L426.4,477.7L426.8,478.6L427.3,479.4L427.8,480.2L428.3,481.1L428.8,481.9L429.2,482.8L429.7,483.6L430.2,484.5L430.7,485.3L431.1,486.2L431.6,487.1L432.1,488.0L432.6,488.9L433.1,489.8L433.5,490.7L434.0,491.6L434.5,492.5L435.0,493.4L435.4,494.3L435.9,495.2L436.4,496.1L436.9,497.0L437.4,497.9L437.8,498.7L438.3,499.6L438.8,500.5L439.3,501.3L439.7,502.1L440.2,503.0L440.7,503.8L441.2,504.6L441.7,505.4L442.1,506.1L442.6,506.9L443.1,507.6L443.6,508.3L444.0,509.1L444.5,509.7L445.0,510.4L445.5,511.1L446.0,511.7L446.4,512.3L446.9,513.0L447.4,513.5L447.9,514.1L448.3,514.7L448.8,515.2L449.3,515.7L449.8,516.1L450.3,516.6L450.7,517.0L451.2,517.4L451.7,517.8L452.2,518.1L452.6,518.5L453.1,518.8L453.6,519.1L454.1,519.4L454.6,519.7L455.0,520.0L455.5,520.3L456.0,520.6L456.5,520.9L456.9,521.2L457.4,521.4L457.9,521.7L458.4,521.9L458.9,522.2L459.3,522.4L459.8,522.6L460.3,522.9L460.8,523.1L461.2,523.3L461.7,523.5L462.2,523.7L462.7,524.0L463.2,524.2L463.6,524.4L464.1,524.6L464.6,524.8L465.1,525.0L465.5,525.1L466.0,525.3L466.5,525.5L467.0,525.7L467.5,525.8L467.9,526.0L468.4,526.1L468.9,526.3L469.4,526.4L469.8,526.5L470.3,526.6L470.8,526.8L471.3,526.9L471.8,527.0L472.2,527.1L472.7,527.2L473.2,527.3L473.7,527.4L474.1,527.5L474.6,527.6L475.1,527.7L475.6,527.8L476.1,527.9L476.5,528.0L477.0,528.1L477.5,528.2L478.0,528.3L478.4,528.4L478.9,528.4L479.4,528.5L479.9,528.6L480.4,528.7L480.8,528.8L481.3,528.9L481.8,529.0L482.3,529.1L482.7,529.2L483.2,529.3L483.7,529.4L484.2,529.5L484.7,529.6L485.1,529.7L485.6,529.8L486.1,529.8L486.6,529.9L487.0,530.0L487.5,530.1L488.0,530.2L488.5,530.3L489.0,530.4L489.4,530.4L489.9,530.5L490.4,530.6L490.9,530.7L491.3,530.7L491.8,530.8L492.3,530.8L492.8,530.9L493.3,530.9L493.7,530.9L494.2,531.0L494.7,531.0L495.2,531.0L495.6,531.0L496.1,531.0L496.6,531.0L497.1,531.0L497.6,531.0L498.0,531.0L498.5,531.0L499.0,531.0L499.5,531.0L499.9,531.0L500.4,531.0L500.9,531.0L501.4,531.1L501.9,531.1L502.3,531.1L502.8,531.1L503.3,531.1L503.8,531.1L504.2,531.1L504.7,531.1L505.2,531.1L505.7,531.1L506.2,531.1L506.6,531.1L507.1,531.1L507.6,531.1L508.1,531.1L508.5,531.1L509.0,531.1L509.5,531.1L510.0,531.1L510.5,531.1L510.9,531.1L511.4,531.1L511.9,531.1L512.4,531.1L512.8,531.1L513.3,531.1L513.8,531.1L514.3,531.1L514.8,531.1L515.2,531.1L515.7,531.1L516.2,531.1L516.7,531.1L517.1,531.1L517.6,531.1L518.1,531.1L518.6,531.1L519.1,531.1L519.5,531.2L520.0,531.2L520.5,531.2L521.0,531.2L521.4,531.2L521.9,531.2L522.4,531.2L522.9,531.2L523.4,531.2L523.8,531.2L524.3,531.2L524.8,531.2L525.3,531.2L525.7,531.2L526.2,531.2L526.7,531.2L527.2,531.2L527.7,531.2L528.1,531.2L528.6,531.2L529.1,531.2L529.6,531.2L530.0,531.2L530.5,531.2L531.0,531.2L531.5,531.2L532.0,531.2L532.4,531.2L532.9,531.2L533.4,531.2L533.9,531.2L534.3,531.2L534.8,531.2L535.3,531.2" fill="none" stroke="#0c7a22" stroke-width="1.5"/>
<path d="M191.3,531.2L191.8,531.2L192.3,531.2L192.7,531.2L193.2,531.2L193.7,531.2L194.2,531.2L194.6,531.2L195.1,531.2L195.6,531.2L196.1,531.2L196.6,531.2L197.0,531.2L197.5,531.2L198.0,531.2L198.5,531.2L198.9,531.2L199.4,531.2L199.9,531.2L200.4,531.2L200.9,531.2L201.3,531.2L201.8,531.2L202.3,531.2L202.8,531.2L203.2,531.2L203.7,531.2L204.2,531.2L204.7,531.2L205.2,531.2L205.6,531.2L206.1,531.2L206.6,531.2L207.1,531.2L207.5,531.2L208.0,531.2L208.5,531.2L209.0,531.2L209.5,531.2L209.9,531.2L210.4,531.2L210.9,531.2L211.4,531.2L211.8,531.2L212.3,531.2L212.8,531.2L213.3,531.2L213.8,531.2L214.2,531.2L214.7,531.2L215.2,531.2L215.7,531.2L216.1,531.2L216.6,531.2L217.1,531.2L217.6,531.2L218.1,531.2L218.5,531.2L219.0,531.2L219.5,531.2L220.0,531.2L220.4,531.2L220.9,531.2L221.4,531.2L221.9,531.2L222.4,531.2L222.8,531.2L223.3,531.2L223.8,531.2L224.3,531.2L224.7,531.2L225.2,531.2L225.7,531.2L226.2,531.2L226.7,531.2L227.1,531.2L227.6,531.2L228.1,531.2L228.6,531.2L229.0,531.2L229.5,531.2L230.0,531.2L230.5,531.2L231.0,531.2L231.4,531.2L231.9,531.2L232.4,531.2L232.9,531.2L233.3,531.2L233.8,531.2L234.3,531.2L234.8,531.2L235.3,531.2L235.7,531.2L236.2,531.2L236.7,531.2L237.2,531.2L237.6,531.2L238.1,531.2L238.6,531.2L239.1,531.2L239.6,531.2L240.0,531.2L240.5,531.2L241.0,531.2L241.5,531.2L241.9,531.2L242.4,531.2L242.9,531.2L243.4,531.2L243.9,531.2L244.3,531.2L244.8,531.2L245.3,531.2L245.8,531.2L246.2,531.2L246.7,531.2L247.2,531.2L247.7,531.2L248.2,531.2L248.6,531.2L249.1,531.2L249.6,531.2L250.1,531.2L250.5,531.2L251.0,531.2L251.5,531.2L252.0,531.2L252.5,531.2L252.9,531.2L253.4,531.2L253.9,531.2L254.4,531.2L254.8,531.2L255.3,531.2L255.8,531.2L256.3,531.2L256.8,531.2L257.2,531.2L257.7,531.2L258.2,531.2L258.7,531.2L259.1,531.2L259.6,531.2L260.1,531.2L260.6,531.2L261.1,531.2L261.5,531.2L262.0,531.2L262.5,531.2L263.0,531.2L263.4,531.2L263.9,531.2L264.4,531.2L264.9,531.2L265.4,531.2L265.8,531.2L266.3,531.2L266.8,531.2L267.3,531.2L267.7,531.2L268.2,531.2L268.7,531.2L269.2,531.2L269.7,531.2L270.1,531.2L270.6,531.2L271.1,531.2L271.6,531.2L272.0,531.2L272.5,531.1L273.0,531.1L273.5,531.0L274.0,530.9L274.4,530.8L274.9,530.6L275.4,530.4L275.9,530.1L276.3,529.9L276.8,529.5L277.3,529.2L277.8,528.8L278.3,528.4L278.7,527.9L279.2,527.5L279.7,527.0L280.2,526.5L280.6,526.0L281.1,525.5L281.6,525.0L282.1,524.5L282.6,524.0L283.0,523.5L283.5,523.0L284.0,522.5L284.5,521.9L284.9,521.4L285.4,520.8L285.9,520.2L286.4,519.6L286.9,519.0L287.3,518.4L287.8,517.8L288.3,517.1L288.8,516.4L289.2,515.7L289.7,515.0L290.2,514.3L290.7,513.6L291.2,512.8L291.6,512.1L292.1,511.3L292.6,510.5L293.1,509.7L293.5,508.8L294.0,508.0L294.5,507.1L295.0,506.2L295.5,505.3L295.9,504.4L296.4,503.4L296.9,502.5L297.4,501.6L297.8,500.6L298.3,499.7L298.8,498.7L299.3,497.8L299.8,496.9L300.2,495.9L300.7,495.0L301.2,494.1L301.7,493.2L302.1,492.2L302.6,491.3L303.1,490.4L303.6,489.5L304.1,488.5L304.5,487.6L305.0,486.7L305.5,485.8L306.0,484.9L306.4,484.0L306.9,483.1L307.4,482.3L307.9,481.4L308.4,480.6L308.8,479.8L309.3,478.9L309.8,478.1L310.3,477.3L310.7,476.4L311.2,475.6L311.7,474.7L312.2,473.9L312.7,473.0L313.1,472.1L313.6,471.2L314.1,470.3L314.6,469.4L315.0,468.5L315.5,467.6L316.0,466.7L316.5,465.8L317.0,464.9L317.4,464.0L317.9,463.1L318.4,462.2L318.9,461.3L319.3,460.4L319.8,459.6L320.3,458.7L320.8,457.8L321.3,457.0L321.7,456.1L322.2,455.3L322.7,454.4L323.2,453.6L323.6,452.7L324.1,451.8L324.6,450.9L325.1,450.0L325.6,449.1L326.0,448.2L326.5,447.3L327.0,446.3L327.5,445.4L327.9,444.5L328.4,443.7L328.9,442.8L329.4,442.0L329.9,441.2L330.3,440.4L330.8,439.6L331.3,438.9L331.8,438.2L332.2,437.5L332.7,436.8L333.2,436.1L333.7,435.5L334.2,434.8L334.6,434.2L335.1,433.5L335.6,432.9L336.1,432.3L336.5,431.7L337.0,431.1L337.5,430.5L338.0,429.9L338.5,429.4L338.9,428.9L339.4,428.3L339.9,427.8L340.4,427.3L340.8,426.8L341.3,426.4L341.8,425.9L342.3,425.5L342.8,425.0L343.2,424.6L343.7,424.2L344.2,423.8L344.7,423.4L345.1,423.0L345.6,422.6L346.1,422.2L346.6,421.8L347.1,421.4L347.5,421.1L348.0,420.7L348.5,420.4L349.0,420.0L349.4,419.6L349.9,419.3L350.4,419.0L350.9,418.6L351.4,418.3L351.8,418.0L352.3,417.6L352.8,417.3L353.3,417.0L353.7,416.7L354.2,416.4L354.7,416.1L355.2,415.8L355.7,415.5L356.1,415.2L356.6,415.0L357.1,414.7L357.6,414.5L358.0,414.2L358.5,414.0L359.0,413.9L359.5,413.7L360.0,413.6L360.4,413.5L360.9,413.4L361.4,413.4L361.9,413.4L362.3,413.4L362.8,413.5L363.3,413.5L363.8,413.6L364.3,413.7L364.7,413.8L365.2,414.0L365.7,414.1L366.2,414.2L366.6,414.4L367.1,414.5L367.6,414.7L368.1,414.9L368.6,415.0L369.0,415.2L369.5,415.4L370.0,415.6L370.5,415.8L370.9,416.0L371.4,416.3L371.9,416.5L372.4,416.8L372.9,417.0L373.3,417.3L373.8,417.6L374.3,417.9L374.8,418.2L375.2,418.5L375.7,418.8L376.2,419.1L376.7,419.5L377.2,419.8L377.6,420.2L378.1,420.6L378.6,421.0L379.1,421.4L379.5,421.8L380.0,422.2L380.5,422.7L381.0,423.1L381.5,423.6L381.9,424.1L382.4,424.6L382.9,425.2L383.4,425.7L383.8,426.2L384.3,426.8L384.8,427.4L385.3,427.9L385.8,428.5L386.2,429.1L386.7,429.7L387.2,430.3L387.7,430.9L388.1,431.6L388.6,432.2L389.1,432.8L389.6,433.5L390.1,434.1L390.5,434.8L391.0,435.5L391.5,436.1L392.0,436.8L392.4,437.5L392.9,438.2L393.4,438.9L393.9,439.5L394.4,440.2L394.8,440.9L395.3,441.7L395.8,442.4L396.3,443.1L396.7,443.9L397.2,444.7L397.7,445.5L398.2,446.3L398.7,447.1L399.1,448.0L399.6,448.9L400.1,449.8L400.6,450.7L401.0,451.7L401.5,452.6L402.0,453.5L402.5,454.5L403.0,455.4L403.4,456.3L403.9,457.2L404.4,458.1L404.9,459.0L405.3,459.9L405.8,460.8L406.3,461.6L406.8,462.5L407.3,463.3L407.7,464.1L408.2,465.0L408.7,465.8L409.2,466.6L409.6,467.4L410.1,468.3L410.6,469.1L411.1,469.9L411.6,470.8L412.0,471.7L412.5,472.5L413.0,473.4L413.5,474.3L413.9,475.2L414.4,476.1L414.9,476.9L415.4,477.8L415.9,478.7L416.3,479.6L416.8,480.5L417.3,481.4L417.8,482.2L418.2,483.1L418.7,484.0L419.2,484.8L419.7,485.7L420.2,486.6L420.6,487.4L421.1,488.3L421.6,489.1L422.1,490.0L422.5,490.9L423.0,491.8L423.5,492.6L424.0,493.5L424.5,494.4L424.9,495.3L425.4,496.2L425.9,497.1L426.4,498.1L426.8,499.0L427.3,499.9L427.8,500.8L428.3,501.7L428.8,502.6L429.2,503.5L429.7,504.4L430.2,505.3L430.7,506.2L431.1,507.1L431.6,508.0L432.1,508.9L432.6,509.7L433.1,510.6L433.5,511.4L434.0,512.2L434.5,513.1L435.0,513.9L435.4,514.7L435.9,515.4L436.4,516.2L436.9,516.9L437.4,517.7L437.8,518.4L438.3,519.1L438.8,519.8L439.3,520.5L439.7,521.1L440.2,521.7L440.7,522.4L441.2,523.0L441.7,523.5L442.1,524.1L442.6,524.6L443.1,525.2L443.6,525.7L444.0,526.1L444.5,526.6L445.0,527.0L445.5,527.4L446.0,527.8L446.4,528.2L446.9,528.5L447.4,528.9L447.9,529.2L448.3,529.4L448.8,529.7L449.3,529.9L449.8,530.2L450.3,530.4L450.7,530.5L451.2,530.7L451.7,530.8L452.2,530.9L452.6,531.0L453.1,531.1L453.6,531.1L454.1,531.2L454.6,531.2L455.0,531.2L455.5,531.2L456.0,531.2L456.5,531.2L456.9,531.2L457.4,531.2L457.9,531.2L458.4,531.2L458.9,531.2L459.3,531.2L459.8,531.2L460.3,531.2L460.8,531.2L461.2,531.2L461.7,531.2L462.2,531.2L462.7,531.2L463.2,531.2L463.6,531.2L464.1,531.2L464.6,531.2L465.1,531.2L465.5,531.2L466.0,531.2L466.5,531.2L467.0,531.2L467.5,531.2L467.9,531.2L468.4,531.2L468.9,531.2L469.4,531.2L469.8,531.2L470.3,531.2L470.8,531.2L471.3,531.2L471.8,531.2L472.2,531.2L472.7,531.2L473.2,531.2L473.7,531.2L474.1,531.2L474.6,531.2L475.1,531.2L475.6,531.2L476.1,531.2L476.5,531.2L477.0,531.2L477.5,531.2L478.0,531.2L478.4,531.2L478.9,531.2L479.4,531.2L479.9,531.2L480.4,531.2L480.8,531.2L481.3,531.2L481.8,531.2L482.3,531.2L482.7,531.2L483.2,531.2L483.7,531.2L484.2,531.2L484.7,531.2L485.1,531.2L485.6,531.2L486.1,531.2L486.6,531.2L487.0,531.2L487.5,531.2L488.0,531.2L488.5,531.2L489.0,531.2L489.4,531.2L489.9,531.2L490.4,531.2L490.9,531.2L491.3,531.2L491.8,531.2L492.3,531.2L492.8,531.2L493.3,531.2L493.7,531.2L494.2,531.2L494.7,531.2L495.2,531.2L495.6,531.2L496.1,531.2L496.6,531.2L497.1,531.2L497.6,531.2L498.0,531.2L498.5,531.2L499.0,531.2L499.5,531.2L499.9,531.2L500.4,531.2L500.9,531.2L501.4,531.2L501.9,531.2L502.3,531.2L502.8,531.2L503.3,531.2L503.8,531.2L504.2,531.2L504.7,531.2L505.2,531.2L505.7,531.2L506.2,531.2L506.6,531.2L507.1,531.2L507.6,531.2L508.1,531.2L508.5,531.2L509.0,531.2L509.5,531.2L510.0,531.2L510.5,531.2L510.9,531.2L511.4,531.2L511.9,531.2L512.4,531.2L512.8,531.2L513.3,531.2L513.8,531.2L514.3,531.2L514.8,531.2L515.2,531.2L515.7,531.2L516.2,531.2L516.7,531.2L517.1,531.2L517.6,531.2L518.1,531.2L518.6,531.2L519.1,531.2L519.5,531.2L520.0,531.2L520.5,531.2L521.0,531.2L521.4,531.2L521.9,531.2L522.4,531.2L522.9,531.2L523.4,531.2L523.8,531.2L524.3,531.2L524.8,531.2L525.3,531.2L525.7,531.2L526.2,531.2L526.7,531.2L527.2,531.2L527.7,531.2L528.1,531.2L528.6,531.2L529.1,531.2L529.6,531.2L530.0,531.2L530.5,531.2L531.0,531.2L531.5,531.2L532.0,531.2L532.4,531.2L532.9,531.2L533.4,531.2L533.9,531.2L534.3,531.2L534.8,531.2L535.3,531.2" fill="none" stroke="#dc1428" stroke-width="1.5"/>
<path d="M191.3,531.2L191.8,531.2L192.3,531.2L192.7,531.2L193.2,531.2L193.7,531.2L194.2,531.2L194.6,531.2L195.1,531.1L195.6,531.1L196.1,531.1L196.6,531.1L197.0,531.1L197.5,531.1L198.0,531.1L198.5,531.1L198.9,531.1L199.4,531.1L199.9,531.1L200.4,531.0L200.9,531.0L201.3,531.0L201.8,531.0L202.3,531.0L202.8,531.0L203.2,531.0L203.7,531.0L204.2,531.0L204.7,531.0L205.2,531.0L205.6,531.0L206.1,531.0L206.6,531.0L207.1,531.0L207.5,531.0L208.0,531.0L208.5,531.0L209.0,531.0L209.5,530.9L209.9,530.9L210.4,530.9L210.9,530.9L211.4,530.9L211.8,530.9L212.3,530.9L212.8,530.9L213.3,530.9L213.8,530.9L214.2,530.9L214.7,530.9L215.2,530.9L215.7,530.9L216.1,530.9L216.6,530.9L217.1,530.9L217.6,530.9L218.1,530.9L218.5,530.9L219.0,530.9L219.5,530.8L220.0,530.8L220.4,530.8L220.9,530.8L221.4,530.8L221.9,530.8L222.4,530.8L222.8,530.8L223.3,530.8L223.8,530.8L224.3,530.7L224.7,530.7L225.2,530.7L225.7,530.6L226.2,530.6L226.7,530.5L227.1,530.4L227.6,530.4L228.1,530.3L228.6,530.2L229.0,530.1L229.5,529.9L230.0,529.8L230.5,529.7L231.0,529.6L231.4,529.5L231.9,529.4L232.4,529.2L232.9,529.1L233.3,529.0L233.8,528.9L234.3,528.8L234.8,528.7L235.3,528.6L235.7,528.5L236.2,528.4L236.7,528.4L237.2,528.3L237.6,528.2L238.1,528.1L238.6,528.0L239.1,528.0L239.6,527.9L240.0,527.8L240.5,527.7L241.0,527.6L241.5,527.5L241.9,527.4L242.4,527.3L242.9,527.2L243.4,527.1L243.9,526.9L244.3,526.8L244.8,526.7L245.3,526.6L245.8,526.5L246.2,526.3L246.7,526.2L247.2,526.1L247.7,526.0L248.2,525.8L248.6,525.7L249.1,525.6L249.6,525.4L250.1,525.3L250.5,525.2L251.0,525.0L251.5,524.9L252.0,524.7L252.5,524.6L252.9,524.4L253.4,524.3L253.9,524.1L254.4,524.0L254.8,523.8L255.3,523.7L255.8,523.5L256.3,523.4L256.8,523.2L257.2,523.0L257.7,522.9L258.2,522.7L258.7,522.5L259.1,522.3L259.6,522.1L260.1,521.9L260.6,521.8L261.1,521.6L261.5,521.4L262.0,521.2L262.5,521.0L263.0,520.8L263.4,520.6L263.9,520.4L264.4,520.2L264.9,520.0L265.4,519.7L265.8,519.5L266.3,519.3L266.8,519.1L267.3,518.8L267.7,518.6L268.2,518.3L268.7,518.1L269.2,517.8L269.7,517.5L270.1,517.2L270.6,516.9L271.1,516.6L271.6,516.3L272.0,516.0L272.5,515.6L273.0,515.2L273.5,514.8L274.0,514.4L274.4,514.0L274.9,513.5L275.4,513.0L275.9,512.6L276.3,512.1L276.8,511.5L277.3,511.0L277.8,510.4L278.3,509.9L278.7,509.3L279.2,508.6L279.7,508.0L280.2,507.3L280.6,506.6L281.1,505.9L281.6,505.2L282.1,504.4L282.6,503.6L283.0,502.7L283.5,501.9L284.0,501.0L284.5,500.1L284.9,499.3L285.4,498.3L285.9,497.4L286.4,496.5L286.9,495.6L287.3,494.7L287.8,493.8L288.3,492.9L288.8,492.0L289.2,491.1L289.7,490.2L290.2,489.3L290.7,488.4L291.2,487.5L291.6,486.6L292.1,485.7L292.6,484.8L293.1,483.9L293.5,483.0L294.0,482.0L294.5,481.1L295.0,480.2L295.5,479.3L295.9,478.4L296.4,477.5L296.9,476.6L297.4,475.7L297.8,474.8L298.3,473.9L298.8,473.0L299.3,472.1L299.8,471.2L300.2,470.3L300.7,469.4L301.2,468.5L301.7,467.7L302.1,466.9L302.6,466.0L303.1,465.2L303.6,464.4L304.1,463.6L304.5,462.8L305.0,462.0L305.5,461.2L306.0,460.4L306.4,459.6L306.9,458.8L307.4,458.0L307.9,457.2L308.4,456.4L308.8,455.6L309.3,454.8L309.8,454.0L310.3,453.2L310.7,452.4L311.2,451.6L311.7,450.9L312.2,450.1L312.7,449.3L313.1,448.5L313.6,447.7L314.1,446.9L314.6,446.1L315.0,445.3L315.5,444.5L316.0,443.7L316.5,443.0L317.0,442.2L317.4,441.4L317.9,440.6L318.4,439.9L318.9,439.1L319.3,438.4L319.8,437.6L320.3,436.9L320.8,436.2L321.3,435.5L321.7,434.8L322.2,434.2L322.7,433.5L323.2,432.9L323.6,432.3L324.1,431.8L324.6,431.3L325.1,430.7L325.6,430.3L326.0,429.8L326.5,429.3L327.0,428.9L327.5,428.5L327.9,428.1L328.4,427.8L328.9,427.4L329.4,427.1L329.9,426.7L330.3,426.4L330.8,426.1L331.3,425.8L331.8,425.5L332.2,425.3L332.7,425.0L333.2,424.7L333.7,424.5L334.2,424.2L334.6,424.0L335.1,423.7L335.6,423.5L336.1,423.3L336.5,423.0L337.0,422.8L337.5,422.6L338.0,422.4L338.5,422.2L338.9,422.0L339.4,421.8L339.9,421.6L340.4,421.4L340.8,421.2L341.3,421.0L341.8,420.9L342.3,420.7L342.8,420.5L343.2,420.4L343.7,420.2L344.2,420.0L344.7,419.9L345.1,419.7L345.6,419.6L346.1,419.5L346.6,419.3L347.1,419.2L347.5,419.1L348.0,419.0L348.5,418.9L349.0,418.8L349.4,418.7L349.9,418.6L350.4,418.5L350.9,418.4L351.4,418.3L351.8,418.2L352.3,418.2L352.8,418.1L353.3,418.0L353.7,417.9L354.2,417.9L354.7,417.8L355.2,417.7L355.7,417.7L356.1,417.6L356.6,417.5L357.1,417.4L357.6,417.4L358.0,417.3L358.5,417.2L359.0,417.1L359.5,417.0L360.0,417.0L360.4,416.9L360.9,416.8L361.4,416.8L361.9,416.7L362.3,416.7L362.8,416.6L363.3,416.6L363.8,416.6L364.3,416.6L364.7,416.6L365.2,416.6L365.7,416.6L366.2,416.7L366.6,416.7L367.1,416.7L367.6,416.7L368.1,416.7L368.6,416.7L369.0,416.7L369.5,416.7L370.0,416.7L370.5,416.7L370.9,416.7L371.4,416.7L371.9,416.6L372.4,416.6L372.9,416.6L373.3,416.6L373.8,416.6L374.3,416.6L374.8,416.6L375.2,416.7L375.7,416.7L376.2,416.7L376.7,416.8L377.2,416.8L377.6,416.9L378.1,417.0L378.6,417.0L379.1,417.1L379.5,417.2L380.0,417.3L380.5,417.4L381.0,417.5L381.5,417.7L381.9,417.8L382.4,417.9L382.9,418.0L383.4,418.1L383.8,418.3L384.3,418.4L384.8,418.5L385.3,418.7L385.8,418.8L386.2,418.9L386.7,419.1L387.2,419.3L387.7,419.5L388.1,419.7L388.6,419.9L389.1,420.1L389.6,420.3L390.1,420.6L390.5,420.8L391.0,421.1L391.5,421.3L392.0,421.6L392.4,421.9L392.9,422.2L393.4,422.5L393.9,422.7L394.4,423.0L394.8,423.3L395.3,423.6L395.8,423.9L396.3,424.2L396.7,424.5L397.2,424.9L397.7,425.2L398.2,425.5L398.7,425.9L399.1,426.3L399.6,426.7L400.1,427.1L400.6,427.6L401.0,428.0L401.5,428.5L402.0,429.0L402.5,429.6L403.0,430.1L403.4,430.7L403.9,431.3L404.4,431.9L404.9,432.5L405.3,433.2L405.8,433.8L406.3,434.5L406.8,435.1L407.3,435.8L407.7,436.5L408.2,437.2L408.7,438.0L409.2,438.7L409.6,439.4L410.1,440.2L410.6,441.0L411.1,441.8L411.6,442.6L412.0,443.4L412.5,444.3L413.0,445.1L413.5,446.0L413.9,446.9L414.4,447.7L414.9,448.6L415.4,449.5L415.9,450.3L416.3,451.2L416.8,452.1L417.3,452.9L417.8,453.7L418.2,454.6L418.7,455.4L419.2,456.2L419.7,457.0L420.2,457.9L420.6,458.7L421.1,459.5L421.6,460.3L422.1,461.2L422.5,462.0L423.0,462.9L423.5,463.7L424.0,464.6L424.5,465.4L424.9,466.3L425.4,467.1L425.9,468.0L426.4,468.8L426.8,469.7L427.3,470.6L427.8,471.5L428.3,472.3L428.8,473.2L429.2,474.1L429.7,475.0L430.2,475.9L430.7,476.9L431.1,477.8L431.6,478.7L432.1,479.7L432.6,480.6L433.1,481.6L433.5,482.5L434.0,483.5L434.5,484.5L435.0,485.4L435.4,486.4L435.9,487.4L436.4,488.3L436.9,489.3L437.4,490.3L437.8,491.2L438.3,492.1L438.8,493.1L439.3,494.0L439.7,494.9L440.2,495.8L440.7,496.7L441.2,497.6L441.7,498.5L442.1,499.3L442.6,500.2L443.1,501.0L443.6,501.8L444.0,502.6L444.5,503.4L445.0,504.2L445.5,504.9L446.0,505.7L446.4,506.4L446.9,507.1L447.4,507.8L447.9,508.4L448.3,509.0L448.8,509.6L449.3,510.2L449.8,510.7L450.3,511.2L450.7,511.7L451.2,512.1L451.7,512.6L452.2,513.0L452.6,513.4L453.1,513.8L453.6,514.1L454.1,514.5L454.6,514.9L455.0,515.2L455.5,515.5L456.0,515.9L456.5,516.2L456.9,516.5L457.4,516.8L457.9,517.2L458.4,517.5L458.9,517.8L459.3,518.1L459.8,518.4L460.3,518.7L460.8,519.0L461.2,519.3L461.7,519.6L462.2,519.9L462.7,520.2L463.2,520.5L463.6,520.8L464.1,521.2L464.6,521.5L465.1,521.8L465.5,522.1L466.0,522.4L466.5,522.7L467.0,522.9L467.5,523.2L467.9,523.4L468.4,523.7L468.9,523.9L469.4,524.1L469.8,524.3L470.3,524.4L470.8,524.6L471.3,524.7L471.8,524.9L472.2,525.0L472.7,525.1L473.2,525.2L473.7,525.3L474.1,525.5L474.6,525.6L475.1,525.7L475.6,525.8L476.1,525.9L476.5,526.0L477.0,526.2L477.5,526.3L478.0,526.4L478.4,526.5L478.9,526.6L479.4,526.7L479.9,526.8L480.4,526.9L480.8,527.0L481.3,527.2L481.8,527.3L482.3,527.4L482.7,527.5L483.2,527.6L483.7,527.7L484.2,527.8L484.7,527.9L485.1,528.0L485.6,528.1L486.1,528.2L486.6,528.3L487.0,528.4L487.5,528.5L488.0,528.7L488.5,528.8L489.0,528.9L489.4,529.0L489.9,529.1L490.4,529.2L490.9,529.3L491.3,529.3L491.8,529.4L492.3,529.5L492.8,529.6L493.3,529.7L493.7,529.7L494.2,529.8L494.7,529.9L495.2,530.0L495.6,530.0L496.1,530.1L496.6,530.1L497.1,530.2L497.6,530.3L498.0,530.3L498.5,530.4L499.0,530.4L499.5,530.5L499.9,530.6L500.4,530.6L500.9,530.7L501.4,530.7L501.9,530.8L502.3,530.8L502.8,530.8L503.3,530.9L503.8,530.9L504.2,530.9L504.7,531.0L505.2,531.0L505.7,531.0L506.2,531.0L506.6,531.0L507.1,531.0L507.6,531.0L508.1,531.0L508.5,531.0L509.0,531.0L509.5,531.0L510.0,531.0L510.5,531.1L510.9,531.1L511.4,531.1L511.9,531.1L512.4,531.1L512.8,531.1L513.3,531.1L513.8,531.1L514.3,531.1L514.8,531.1L515.2,531.1L515.7,531.1L516.2,531.1L516.7,531.1L517.1,531.1L517.6,531.1L518.1,531.1L518.6,531.1L519.1,531.1L519.5,531.1L520.0,531.1L520.5,531.1L521.0,531.1L521.4,531.1L521.9,531.1L522.4,531.1L522.9,531.1L523.4,531.1L523.8,531.2L524.3,531.2L524.8,531.2L525.3,531.2L525.7,531.2L526.2,531.2L526.7,531.2L527.2,531.2L527.7,531.2L528.1,531.2L528.6,531.2L529.1,531.2L529.6,531.2L530.0,531.2L530.5,531.2L531.0,531.2L531.5,531.2L532.0,531.2L532.4,531.2L532.9,531.2L533.4,531.2L533.9,531.2L534.3,531.2L534.8,531.2L535.3,531.2" fill="none" stroke="#1e1ec8" stroke-width="1.5"/>
<text x="131.00" y="536.25" font-family='"Liberation Sans",sans-serif' font-size="8.3" fill="#111" stroke="#111" stroke-width="0.2" text-anchor="start">0.00</text>
<text x="131.00" y="512.55" font-family='"Liberation Sans",sans-serif' font-size="8.3" fill="#111" stroke="#111" stroke-width="0.2" text-anchor="start">526.99</text>
<text x="131.00" y="488.85" font-family='"Liberation Sans",sans-serif' font-size="8.3" fill="#111" stroke="#111" stroke-width="0.2" text-anchor="start">1053.98</text>
<text x="131.00" y="465.15" font-family='"Liberation Sans",sans-serif' font-size="8.3" fill="#111" stroke="#111" stroke-width="0.2" text-anchor="start">1580.97</text>
<text x="131.00" y="441.45" font-family='"Liberation Sans",sans-serif' font-size="8.3" fill="#111" stroke="#111" stroke-width="0.2" text-anchor="start">2107.96</text>
<text x="131.00" y="417.75" font-family='"Liberation Sans",sans-serif' font-size="8.3" fill="#111" stroke="#111" stroke-width="0.2" text-anchor="start">2634.95</text>
<text x="187.30" y="539.60" font-family='"Liberation Sans",sans-serif' font-size="8.5" fill="#111" stroke="#111" stroke-width="0.2" text-anchor="start">-180&#176;</text>
<text x="230.30" y="539.60" font-family='"Liberation Sans",sans-serif' font-size="8.5" fill="#111" stroke="#111" stroke-width="0.2" text-anchor="start">-135&#176;</text>
<text x="273.30" y="539.60" font-family='"Liberation Sans",sans-serif' font-size="8.5" fill="#111" stroke="#111" stroke-width="0.2" text-anchor="start">-90&#176;</text>
<text x="316.30" y="539.60" font-family='"Liberation Sans",sans-serif' font-size="8.5" fill="#111" stroke="#111" stroke-width="0.2" text-anchor="start">-45&#176;</text>
<text x="359.30" y="539.60" font-family='"Liberation Sans",sans-serif' font-size="8.5" fill="#111" stroke="#111" stroke-width="0.2" text-anchor="start">0&#176;</text>
<text x="402.30" y="539.60" font-family='"Liberation Sans",sans-serif' font-size="8.5" fill="#111" stroke="#111" stroke-width="0.2" text-anchor="start">45&#176;</text>
<text x="445.30" y="539.60" font-family='"Liberation Sans",sans-serif' font-size="8.5" fill="#111" stroke="#111" stroke-width="0.2" text-anchor="start">90&#176;</text>
<text x="488.30" y="539.60" font-family='"Liberation Sans",sans-serif' font-size="8.5" fill="#111" stroke="#111" stroke-width="0.2" text-anchor="start">135&#176;</text>
<text x="531.30" y="539.60" font-family='"Liberation Sans",sans-serif' font-size="8.5" fill="#111" stroke="#111" stroke-width="0.2" text-anchor="start">180&#176;</text>
<text transform="translate(235.30,565.50) scale(1,1.1)" font-family='"Liberation Serif",serif' font-size="12.5" fill="#111" stroke="#111" stroke-width="0.1" text-anchor="start">C45(Max):</text>
<text transform="translate(235.30,581.60) scale(1,1.1)" font-family='"Liberation Serif",serif' font-size="12.5" fill="#111" stroke="#111" stroke-width="0.1" text-anchor="start">C0/C180:</text>
<text transform="translate(235.30,600.20) scale(1,1.1)" font-family='"Liberation Serif",serif' font-size="12.5" fill="#111" stroke="#111" stroke-width="0.1" text-anchor="start">C90/C270:</text>
<line x1="321" y1="559.8" x2="381.8" y2="559.8" stroke="#0c7a22" stroke-width="1.8"/>
<line x1="321" y1="576.7" x2="381.8" y2="576.7" stroke="#dc1428" stroke-width="1.8"/>
<line x1="321" y1="594.8" x2="381.8" y2="594.8" stroke="#1e1ec8" stroke-width="1.8"/>
<text transform="translate(235.40,617.60) scale(1,1.1)" font-family='"Liberation Serif",serif' font-size="12.35" fill="#111" stroke="#111" stroke-width="0.1" text-anchor="start">Field angle(10%Imax):C0/180Left:75.3 Right:81.8</text>
<text transform="translate(280.50,635.30) scale(1,1.1)" font-family='"Liberation Serif",serif' font-size="12.35" fill="#111" stroke="#111" stroke-width="0.1" text-anchor="start">:C90/270Left:105.0 Right:95.5</text>
<text transform="translate(235.40,653.20) scale(1,1.1)" font-family='"Liberation Serif",serif' font-size="12.35" fill="#111" stroke="#111" stroke-width="0.1" text-anchor="start">Beam Angle(50%Imax):C0/180Left:48.1 Right:55.0</text>
<text transform="translate(280.50,671.70) scale(1,1.1)" font-family='"Liberation Serif",serif' font-size="12.35" fill="#111" stroke="#111" stroke-width="0.1" text-anchor="start">:C90/270Left:72.0 Right:62.8</text>
</svg></body></html>
